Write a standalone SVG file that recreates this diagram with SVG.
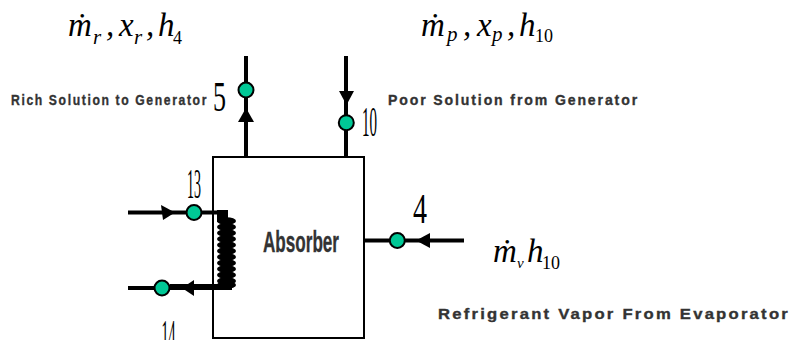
<svg xmlns="http://www.w3.org/2000/svg" width="793" height="340" viewBox="0 0 793 340">
<style>
.pipe{fill:none;stroke:#000;stroke-width:4}
.head{fill:#000}
.coil{fill:#000}
.dot{fill:#00c896;stroke:#000;stroke-width:2}
.lab{font-family:"Liberation Sans",Arial,sans-serif;font-weight:700;fill:#333;stroke:#333;stroke-width:.35px;font-size:15px;letter-spacing:2px}
.num{font-family:"Liberation Serif","Times New Roman",serif;fill:#000;font-size:42px}
.eq{font-family:"Liberation Serif","Times New Roman",serif;font-style:italic;font-size:33px;fill:#000}
.sub{font-size:21px}
.dig{font-style:normal;font-size:18px}
</style>
<rect width="793" height="340" fill="#fff"/>
<g id="absorber">
<rect x="213" y="157" width="151" height="181" fill="#fff" stroke="#000" stroke-width="2"/>
<text x="263" y="252" class="lab" style="font-size:29px;letter-spacing:0" textLength="76" lengthAdjust="spacingAndGlyphs">Absorber</text>
</g>
<g id="connectors">
<path class="pipe" d="M246 157V56"/>
<path class="pipe" d="M346 157V56"/>
<path class="pipe" d="M364 240.500H464"/>
<path class="pipe" d="M128 212.500H228"/>
<path class="pipe" d="M128 288H180"/>
<path class="pipe" d="M170 287H232" style="stroke-width:6"/>
<path class="head" d="M217 210H228V222H217Z"/>
<g class="coil">
<ellipse cx="226.500" cy="221" rx="9.500" ry="3.800"/><ellipse cx="226.500" cy="227" rx="9.500" ry="3.800"/><ellipse cx="226.500" cy="233" rx="9.500" ry="3.800"/><ellipse cx="226.500" cy="239" rx="9.500" ry="3.800"/><ellipse cx="226.500" cy="245" rx="9.500" ry="3.800"/><ellipse cx="226.500" cy="251" rx="9.500" ry="3.800"/><ellipse cx="226.500" cy="257" rx="9.500" ry="3.800"/><ellipse cx="226.500" cy="263" rx="9.500" ry="3.800"/><ellipse cx="226.500" cy="269" rx="9.500" ry="3.800"/><ellipse cx="226.500" cy="275" rx="9.500" ry="3.800"/><ellipse cx="226.500" cy="281" rx="9.500" ry="3.800"/><ellipse cx="226.500" cy="285" rx="9.500" ry="3.800"/>
</g>
<polygon class="head" points="246,108 254,122 238,122"/>
<polygon class="head" points="346.500,105 339,91 354,91"/>
<polygon class="head" points="175,212.500 161,205 163,220"/>
<polygon class="head" points="182,288 194,280 194,296"/>
<polygon class="head" points="416,240.500 430,233 430,248"/>
</g>
<g id="node-5"><circle class="dot" cx="246" cy="90" r="7.500"/><text class="num" x="213" y="110.500" textLength="13" lengthAdjust="spacingAndGlyphs">5</text></g>
<g id="node-10"><circle class="dot" cx="346.300" cy="122.700" r="7.500"/><text class="num" x="362" y="135.500" textLength="15" lengthAdjust="spacingAndGlyphs">10</text></g>
<g id="node-13"><circle class="dot" cx="194" cy="212.500" r="7.500"/><text class="num" x="187" y="198" textLength="14" lengthAdjust="spacingAndGlyphs">13</text></g>
<g id="node-14"><circle class="dot" cx="162" cy="288" r="7.500"/><text class="num" x="161.500" y="349" textLength="14" lengthAdjust="spacingAndGlyphs">14</text></g>
<g id="node-4"><circle class="dot" cx="397.300" cy="240.500" r="7.500"/><text class="num" x="413" y="223" textLength="14" lengthAdjust="spacingAndGlyphs">4</text></g>
<g id="labels">
<text class="lab" x="11" y="105" textLength="197" lengthAdjust="spacingAndGlyphs">Rich Solution to Generator</text>
<text class="lab" x="388" y="105" textLength="251" lengthAdjust="spacingAndGlyphs">Poor Solution from Generator</text>
<text class="lab" x="438" y="319" textLength="352" lengthAdjust="spacingAndGlyphs">Refrigerant Vapor From Evaporator</text>
</g>
<g id="formulas">
<text class="eq" x="68" y="36">ṁ</text><text class="eq sub" x="93" y="44">r</text><text class="eq" x="106" y="36">,</text><text class="eq" x="119" y="36">x</text><text class="eq sub" x="134" y="44">r</text><text class="eq" x="146" y="36">,</text><text class="eq" x="158" y="36">h</text><text class="eq dig" x="173" y="44">4</text>
<text class="eq" x="421" y="36">ṁ</text><text class="eq sub" x="447" y="41">p</text><text class="eq" x="463" y="36">,</text><text class="eq" x="477" y="36">x</text><text class="eq sub" x="492" y="41">p</text><text class="eq" x="507" y="36">,</text><text class="eq" x="519" y="36">h</text><text class="eq dig" x="535" y="42">10</text>
<text class="eq" x="493" y="262">ṁ</text><text class="eq" x="517" y="268" style="font-size:15px">v</text><text class="eq" x="527" y="262">h</text><text class="eq dig" x="542" y="269">10</text>
</g>
</svg>
